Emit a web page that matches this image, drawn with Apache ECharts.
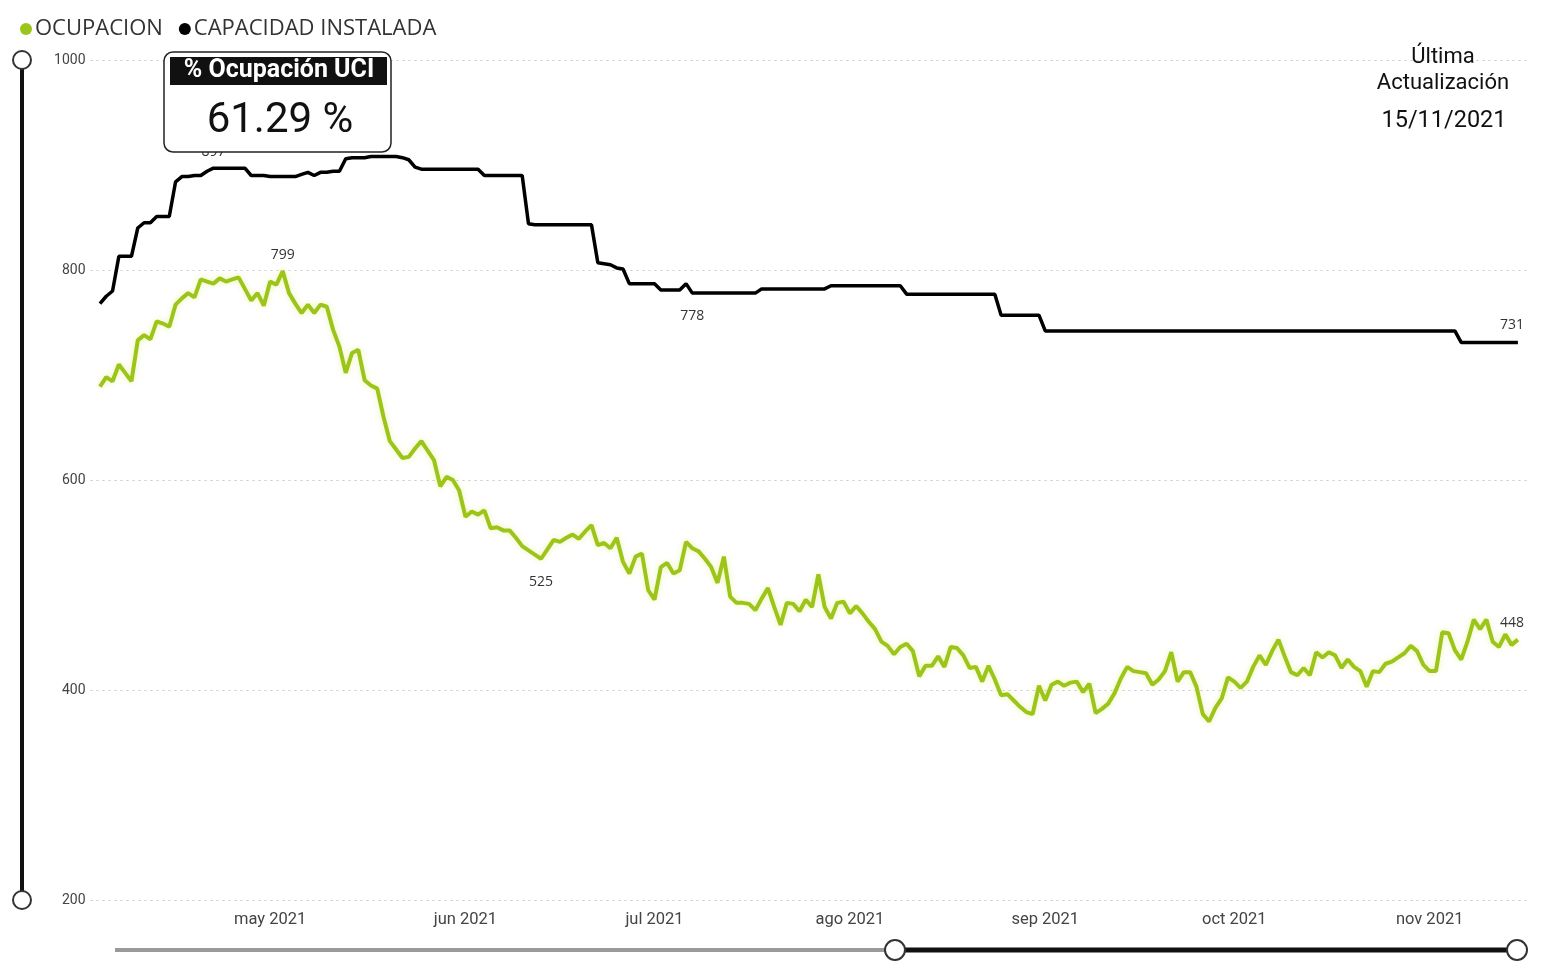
<!DOCTYPE html>
<html>
<head>
<meta charset="utf-8">
<script src="https://cdn.jsdelivr.net/npm/echarts@6/dist/echarts.min.js"></script>
<style>
html,body{margin:0;padding:0;background:#fff;}
#chart{width:1560px;height:966px;}
</style>
</head>
<body>
<div id="chart"></div>
<script>
// ---- data (daily, 4 Apr 2021 .. 15 Nov 2021) ----
const START_DATE = [2021, 3, 4];
const MONTHS = ['ene','feb','mar','abr','may','jun','jul','ago','sep','oct','nov','dic'];
const Y_TICKS = [200, 400, 600, 800, 1000];

const ocupacion = [
689,698,694,710,702,694,733,738,734,751,
749,746,767,773,778,774,791,789,787,792,
789,791,793,782,771,778,766,789,786,799,
778,768,759,767,759,767,765,743,727,702,
721,724,695,690,687,660,637,629,621,622,
630,637,628,619,594,603,600,590,565,570,
567,571,554,555,552,552,545,537,533,529,
525,534,543,541,545,548,544,551,557,538,
540,535,545,522,511,527,530,495,486,517,
521,511,514,541,535,532,525,517,502,527,
489,483,483,482,476,487,497,479,462,483,
482,475,486,479,510,479,468,483,484,473,
480,473,465,458,446,442,434,441,444,437,
413,423,423,432,422,441,440,433,421,422,
408,423,410,395,396,390,384,379,377,404,
390,405,408,404,407,408,398,406,378,382,
387,397,411,422,418,417,416,405,410,418,
436,408,417,417,403,377,370,383,392,412,
408,402,408,422,433,424,437,448,432,417,
414,421,414,436,431,436,433,421,429,422,
418,403,418,417,425,427,431,435,442,437,
424,418,418,455,454,438,429,446,467,458,
467,446,441,453,443,448
];

const capacidad = [
768,775,780,813,813,813,840,845,845,851,
851,851,884,889,889,890,890,894,897,897,
897,897,897,897,890,890,890,889,889,889,
889,889,891,893,890,893,893,894,894,906,
907,907,907,908,908,908,908,908,907,905,
898,896,896,896,896,896,896,896,896,896,
896,890,890,890,890,890,890,890,844,843,
843,843,843,843,843,843,843,843,843,807,
806,805,802,801,787,787,787,787,787,781,
781,781,781,787,778,778,778,778,778,778,
778,778,778,778,778,782,782,782,782,782,
782,782,782,782,782,782,785,785,785,785,
785,785,785,785,785,785,785,785,777,777,
777,777,777,777,777,777,777,777,777,777,
777,777,777,757,757,757,757,757,757,757,
742,742,742,742,742,742,742,742,742,742,
742,742,742,742,742,742,742,742,742,742,
742,742,742,742,742,742,742,742,742,742,
742,742,742,742,742,742,742,742,742,742,
742,742,742,742,742,742,742,742,742,742,
742,742,742,742,742,742,742,742,742,742,
742,742,742,742,742,742,731,731,731,731,
731,731,731,731,731,731
];

// labelled points: index -> label placement
const occLabels = {29: 'top', 70: 'bottom', 225: 'end'};
const capLabels = {18: 'top', 94: 'bottom', 225: 'end'};

const KPI_TITLE = '% Ocupación UCI';
const KPI_VALUE = '61.29 %';
const UPDATE_LINES = ['Última', 'Actualización'];
const UPDATE_DATE = '15/11/2021';

// ---- build ----
const LABEL_PLACEMENT = {
  top: { position: 'top', distance: 9 },
  bottom: { position: 'bottom', distance: 16 },
  end: { position: [-6, -17], align: 'center', verticalAlign: 'middle' }
};
function dateAt(i) { return new Date(START_DATE[0], START_DATE[1], START_DATE[2] + i).getTime(); }
function build(arr, labels) {
  return arr.map((v, i) => {
    const item = { value: [dateAt(i), v] };
    if (labels[i]) item.label = Object.assign({ show: true }, LABEL_PLACEMENT[labels[i]]);
    return item;
  });
}

const chart = echarts.init(document.getElementById('chart'), null, {renderer: 'canvas'});
const labelStyle = { show: false, color: '#333', fontSize: 14, fontFamily: 'Open Sans', formatter: p => p.value[1] };

const option = {
  animation: false,
  backgroundColor: '#fff',
  legend: {
    left: 15, top: 13, itemGap: 16, itemWidth: 12, itemHeight: 12,
    icon: 'circle',
    textStyle: { fontSize: 22, color: '#333', fontFamily: 'Open Sans', padding: [0,0,0,-2] },
    data: ['OCUPACION', 'CAPACIDAD INSTALADA']
  },
  grid: { left: 90.5, right: 29.5, top: 60, bottom: 66 },
  xAxis: {
    type: 'time',
    min: new Date(2021, 3, 2, 12).getTime(),
    max: new Date(2021, 10, 17).getTime(),
    minInterval: 28 * 864e5,
    maxInterval: 31 * 864e5,
    axisLine: { show: false },
    axisTick: { show: false },
    splitLine: { show: false },
    axisLabel: {
      showMinLabel: false, showMaxLabel: false,
      margin: 11, color: '#444', fontSize: 16.5, fontFamily: 'Roboto',
      formatter: v => { const d = new Date(v); return MONTHS[d.getMonth()] + ' ' + d.getFullYear(); }
    }
  },
  yAxis: {
    type: 'value', min: Y_TICKS[0], max: Y_TICKS[Y_TICKS.length - 1], interval: 200,
    axisLine: { show: false }, axisTick: { show: false },
    axisLabel: { color: '#444', fontSize: 14, fontFamily: 'Roboto', margin: 5, formatter: v => String(v) },
    splitLine: { lineStyle: { type: [2, 4], color: '#c8c8c8', width: 1 } }
  },
  series: [
    {
      name: 'OCUPACION', type: 'line', showSymbol: true, showAllSymbol: true, symbol: 'circle', symbolSize: 0,
      itemStyle: { color: '#9CC51A' },
      lineStyle: { color: '#9CC51A', width: 4, shadowColor: 'rgba(225,235,120,0.55)', shadowBlur: 6 },
      label: labelStyle,
      labelLayout: { hideOverlap: false },
      data: build(ocupacion, occLabels),
      z: 3
    },
    {
      name: 'CAPACIDAD INSTALADA', type: 'line', showSymbol: true, showAllSymbol: true, symbol: 'circle', symbolSize: 0,
      itemStyle: { color: '#000' },
      lineStyle: { color: '#000', width: 3.5 },
      label: labelStyle,
      labelLayout: { hideOverlap: false },
      data: build(capacidad, capLabels),
      z: 2
    }
  ],
  graphic: [
    // left vertical slider
    { type: 'line', shape: {x1: 22, y1: 60, x2: 22, y2: 900}, style: {stroke: '#111', lineWidth: 4}, z: 10 },
    { type: 'circle', shape: {cx: 22, cy: 60, r: 9}, style: {fill: '#fff', stroke: '#333', lineWidth: 2}, z: 11 },
    { type: 'circle', shape: {cx: 22, cy: 900, r: 9}, style: {fill: '#fff', stroke: '#333', lineWidth: 2}, z: 11 },
    // bottom slider
    { type: 'line', shape: {x1: 115, y1: 950, x2: 895, y2: 950}, style: {stroke: '#9a9a9a', lineWidth: 4}, z: 10 },
    { type: 'line', shape: {x1: 895, y1: 950, x2: 1517, y2: 950}, style: {stroke: '#111', lineWidth: 5}, z: 10 },
    { type: 'circle', shape: {cx: 895, cy: 950, r: 10}, style: {fill: '#fff', stroke: '#333', lineWidth: 2}, z: 11 },
    { type: 'circle', shape: {cx: 1517, cy: 950, r: 10}, style: {fill: '#fff', stroke: '#333', lineWidth: 2}, z: 11 },
    // KPI box
    { type: 'rect', shape: {x: 164, y: 52, width: 227, height: 100, r: 9}, style: {fill: '#fff', stroke: '#222', lineWidth: 1.5}, z: 20 },
    { type: 'rect', shape: {x: 170, y: 57, width: 217, height: 28}, style: {fill: '#111'}, z: 21 },
    { type: 'text', x: 279, y: 71, style: {text: KPI_TITLE, fill: '#fff', font: 'bold 25px Roboto', align: 'center', verticalAlign: 'middle'}, z: 22 },
    { type: 'text', x: 280, y: 121, style: {text: KPI_VALUE, fill: '#111', font: '42px Roboto', align: 'center', verticalAlign: 'middle'}, z: 22 },
    // last update
    { type: 'text', x: 1443, y: 57, style: {text: UPDATE_LINES[0], fill: '#111', font: '22px Roboto', align: 'center', verticalAlign: 'middle'}, z: 20 },
    { type: 'text', x: 1443, y: 83, style: {text: UPDATE_LINES[1], fill: '#111', font: '22px Roboto', align: 'center', verticalAlign: 'middle'}, z: 20 },
    { type: 'text', x: 1444, y: 121, style: {text: UPDATE_DATE, fill: '#111', font: '23.5px Roboto', align: 'center', verticalAlign: 'middle'}, z: 20 }
  ]
};
chart.setOption(option);
</script>
</body>
</html>
